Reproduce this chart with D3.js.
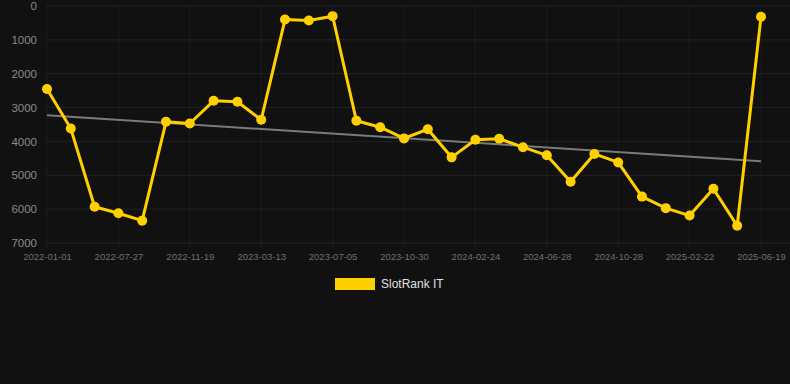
<!DOCTYPE html>
<html>
<head>
<meta charset="utf-8">
<script src="https://cdn.jsdelivr.net/npm/d3@7"></script>
<style>
  html, body { margin: 0; padding: 0; background: #111111; }
  svg { display: block; font-family: "Liberation Sans", Arial, sans-serif; }
</style>
</head>
<body>
<div id="chart"></div>
<script>
// rank dates (only every third one is labelled on the axis)
const dates = [
  "2022-01-01", "2022-03-10", "2022-05-18", "2022-07-27", "2022-09-04", "2022-10-12",
  "2022-11-19", "2022-12-27", "2023-02-03", "2023-03-13", "2023-04-20", "2023-05-28",
  "2023-07-05", "2023-08-12", "2023-09-21", "2023-10-30", "2023-12-08", "2024-01-16",
  "2024-02-24", "2024-04-04", "2024-05-16", "2024-06-28", "2024-08-08", "2024-09-17",
  "2024-10-28", "2024-12-06", "2025-01-14", "2025-02-22", "2025-04-01", "2025-05-10",
  "2025-06-19"
];

const ranks = [
  2450, 3620, 5930, 6120, 6340, 3420,
  3470, 2800, 2830, 3360, 400, 430,
  300, 3390, 3580, 3910, 3640, 4470,
  3950, 3920, 4170, 4410, 5190, 4370,
  4620, 5630, 5970, 6190, 5400, 6490,
  320
];

const yTicks = [0, 1000, 2000, 3000, 4000, 5000, 6000, 7000];
const seriesName = "SlotRank IT";

const width = 790, height = 384;
const plot = { left: 47, right: 761, top: 6, bottom: 243, gridRight: 790 };

const svg = d3.select("#chart").append("svg")
    .attr("width", width)
    .attr("height", height);

svg.append("rect")
    .attr("width", width).attr("height", height)
    .attr("fill", "#111111");

const x = d3.scalePoint().domain(dates).range([plot.left, plot.right]);
const y = d3.scaleLinear().domain([0, 7000]).range([plot.top, plot.bottom]);

const shownDates = dates.filter((d, i) => i % 3 === 0);

// grid
svg.append("g").selectAll("line")
    .data(yTicks)
    .join("line")
    .attr("x1", plot.left).attr("x2", plot.gridRight)
    .attr("y1", d => y(d)).attr("y2", d => y(d))
    .attr("stroke", "#ffffff").attr("stroke-opacity", 0.07);

svg.append("g").selectAll("line")
    .data(shownDates)
    .join("line")
    .attr("x1", d => x(d)).attr("x2", d => x(d))
    .attr("y1", plot.top).attr("y2", plot.bottom + 5)
    .attr("stroke", "#ffffff").attr("stroke-opacity", 0.05);

// y axis labels
const yAxis = svg.append("g")
    .attr("transform", `translate(${plot.left - 10},0)`)
    .call(d3.axisLeft(y).tickValues(yTicks).tickSize(0).tickPadding(0).tickFormat(d3.format("d")));
yAxis.select(".domain").remove();
yAxis.selectAll("text")
    .attr("fill", "#8a8a8a")
    .attr("font-size", "11.5px")
    .attr("font-family", "Liberation Sans, Arial, sans-serif");

// x axis labels
const xAxis = svg.append("g")
    .attr("transform", `translate(0,${plot.bottom + 10})`)
    .call(d3.axisBottom(x).tickValues(shownDates).tickSize(0).tickPadding(0));
xAxis.select(".domain").remove();
xAxis.selectAll("text")
    .attr("fill", "#6f6f6f")
    .attr("font-size", "9.5px")
    .attr("font-family", "Liberation Sans, Arial, sans-serif");

// linear trend of the ranks
const idx = ranks.map((d, i) => i);
const mx = d3.mean(idx), my = d3.mean(ranks);
const slope = d3.sum(idx, i => (i - mx) * (ranks[i] - my)) / d3.sum(idx, i => (i - mx) ** 2);
const trend = i => my + slope * (i - mx);

svg.append("line")
    .attr("x1", x(dates[0])).attr("y1", y(trend(0)))
    .attr("x2", x(dates[dates.length - 1])).attr("y2", y(trend(dates.length - 1)))
    .attr("stroke", "#7a7a7a")
    .attr("stroke-width", 2);

// series line + points
const line = d3.line()
    .x((d, i) => x(dates[i]))
    .y(d => y(d));

svg.append("path")
    .datum(ranks)
    .attr("d", line)
    .attr("fill", "none")
    .attr("stroke", "#ffd000")
    .attr("stroke-width", 3)
    .attr("stroke-linejoin", "round");

svg.append("g").selectAll("circle")
    .data(ranks)
    .join("circle")
    .attr("cx", (d, i) => x(dates[i]))
    .attr("cy", d => y(d))
    .attr("r", 5)
    .attr("fill", "#ffd000");

// legend
const legend = svg.append("g").attr("transform", "translate(335,278)");
legend.append("rect")
    .attr("width", 40).attr("height", 12)
    .attr("fill", "#ffd000");
legend.append("text")
    .attr("x", 46).attr("y", 6)
    .attr("dy", "0.35em")
    .attr("fill", "#e0e0e0")
    .attr("font-size", "12px")
    .text(seriesName);
</script>
</body>
</html>
